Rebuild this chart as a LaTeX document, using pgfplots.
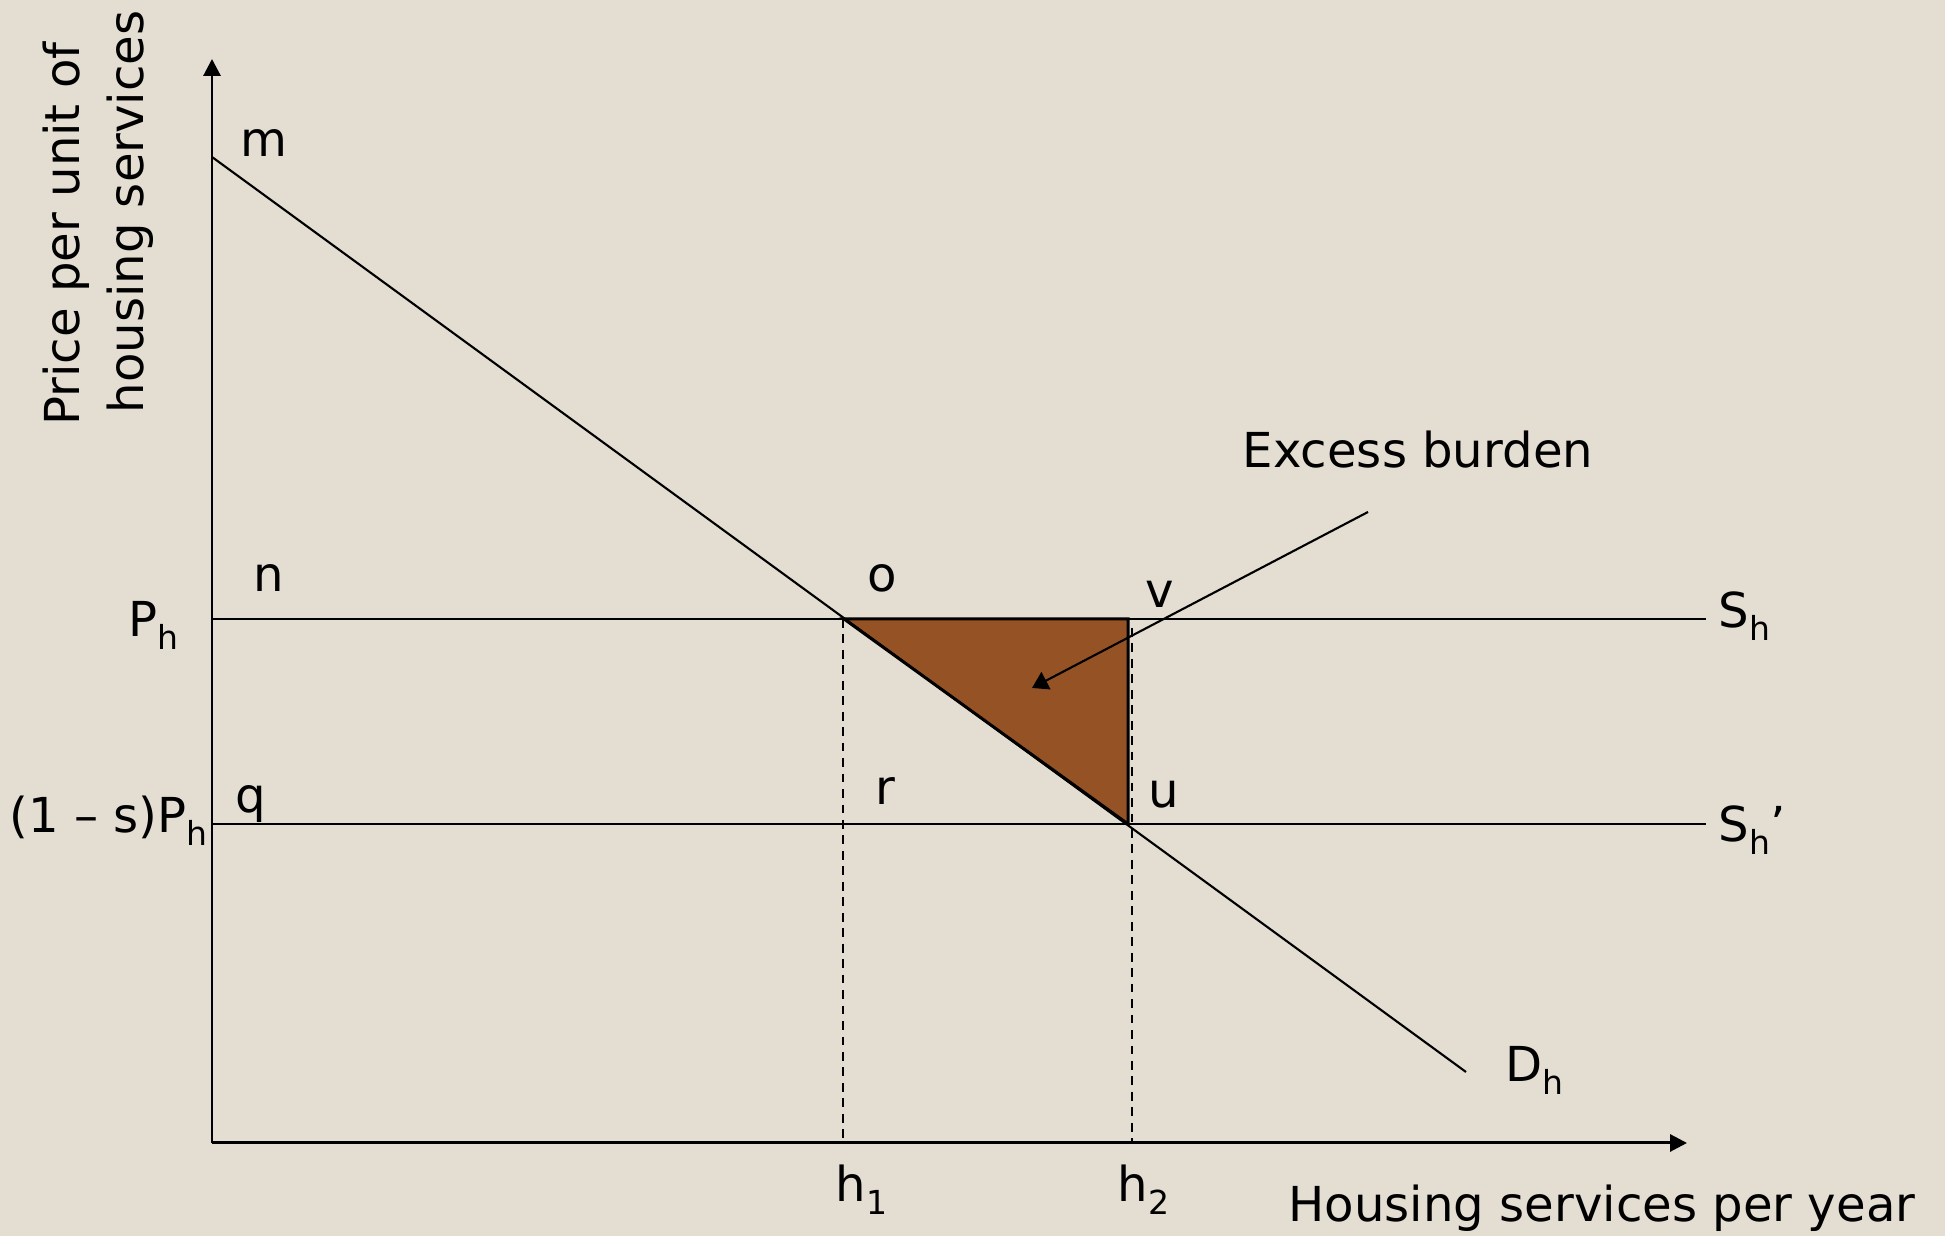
\documentclass[border=0pt]{standalone}
\usepackage{fontspec}
\setmainfont{DejaVu Sans}
\usepackage{pgfplots}
\pgfplotsset{compat=1.18}
\usetikzlibrary{arrows.meta}
\definecolor{bg}{RGB}{227,221,210}
\definecolor{burden}{RGB}{149,83,37}
\newcommand\mainsz{\fontsize{13.7pt}{16pt}\selectfont}
\newcommand\sub[1]{\raisebox{-3.7pt}{\fontsize{9.4pt}{11pt}\selectfont #1}}
\begin{document}
\mainsz
\begin{tikzpicture}[font=\mainsz]
\begin{axis}[
  scale only axis, width=19.45cm, height=12.36cm,
  xmin=0, xmax=1945, ymin=0, ymax=1236,
  axis lines=none, ticks=none, clip=false,
]
% background
\addplot[fill=bg, draw=none] coordinates {(0,0)(1945,0)(1945,1236)(0,1236)} -- cycle;
% excess burden triangle
\addplot[fill=burden, draw=black, line width=0.85pt] coordinates {(844,617)(1128,617)(1128,412)} -- cycle;
% supply lines
\addplot[black, line width=0.7pt] coordinates {(212,617)(1706,617)};
\addplot[black, line width=0.7pt] coordinates {(212,412)(1706,412)};
% demand
\addplot[black, line width=0.6pt] coordinates {(212,1079)(1466,164)};
% dashed
\addplot[black, line width=0.75pt, dash pattern=on 2.5pt off 1.9pt] coordinates {(843,617)(843,93)};
\addplot[black, line width=0.75pt, dash pattern=on 2.5pt off 1.9pt] coordinates {(1132,608)(1132,93)};
% axes
\addplot[black, line width=0.85pt, -{Triangle[width=4.8pt,length=4.8pt]}] coordinates {(212,93)(212,1177)};
\addplot[black, line width=0.85pt, -{Triangle[width=4.8pt,length=4.8pt]}] coordinates {(212,93)(1687,93)};
% annotation arrow
\addplot[black, line width=0.6pt, -{Triangle[width=5.5pt,length=4.5pt]}] coordinates {(1368,724)(1032,548)};
% labels
\node[font=\mainsz, inner sep=0pt, anchor=base west] at (axis cs:240,1079) {m};
\node[font=\mainsz, inner sep=0pt, anchor=base west] at (axis cs:253,644) {n};
\node[font=\mainsz, inner sep=0pt, anchor=base west] at (axis cs:867,644) {o};
\node[font=\mainsz, inner sep=0pt, anchor=base west] at (axis cs:1145,628) {v};
\node[font=\mainsz, inner sep=0pt, anchor=base west] at (axis cs:235,423) {q};
\node[font=\mainsz, inner sep=0pt, anchor=base west] at (axis cs:875,431) {r};
\node[font=\mainsz, inner sep=0pt, anchor=base west] at (axis cs:1148,428) {u};
\node[font=\mainsz, inner sep=0pt, anchor=base west] at (axis cs:128,599) {P\sub{h}};
\node[font=\mainsz, inner sep=0pt, anchor=base east] at (axis cs:208,403) {(1 – s)P\sub{h}};
\node[font=\mainsz, inner sep=0pt, anchor=base west] at (axis cs:1718,608) {S\sub{h}};
\node[font=\mainsz, inner sep=0pt, anchor=base west] at (axis cs:1718,394) {S\sub{h}’};
\node[font=\mainsz, inner sep=0pt, anchor=base west] at (axis cs:1505,154) {D\sub{h}};
\node[font=\mainsz, inner sep=0pt, anchor=base west] at (axis cs:835,34) {h\sub{1}};
\node[font=\mainsz, inner sep=0pt, anchor=base west] at (axis cs:1117,34) {h\sub{2}};
\node[font=\mainsz, inner sep=0pt, anchor=base east] at (axis cs:1916,14) {Housing services per year};
\node[font=\mainsz, inner sep=0pt, anchor=base west] at (axis cs:1242,768) {Excess burden};
\node[font=\mainsz, inner sep=0pt, anchor=base, rotate=90] at (axis cs:80,1002) {Price per unit of};
\node[font=\mainsz, inner sep=0pt, anchor=base, rotate=90] at (axis cs:143,1024) {housing services};
\end{axis}
\pgfresetboundingbox
\path[use as bounding box] (0,0) rectangle (19.45cm,12.36cm);
\end{tikzpicture}
\end{document}
